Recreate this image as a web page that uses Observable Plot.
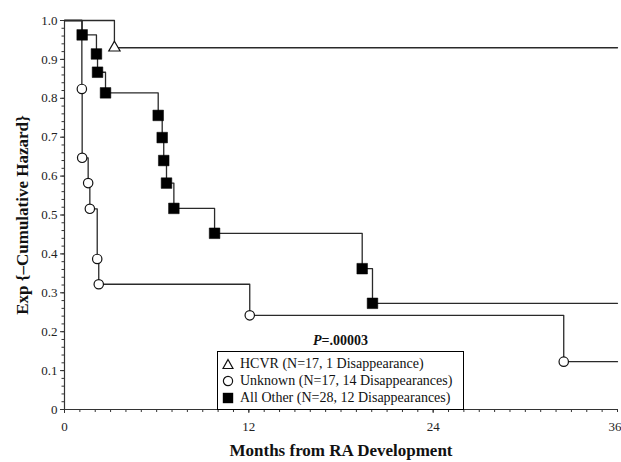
<!DOCTYPE html>
<html>
<head>
<meta charset="utf-8">
<script src="https://cdn.jsdelivr.net/npm/d3@7"></script>
<script src="https://cdn.jsdelivr.net/npm/@observablehq/plot@0.6"></script>
<style>
  html, body { margin: 0; padding: 0; background: #fff; }
  #wrap { position: relative; width: 621px; height: 462px; font-family: "Liberation Serif", "Times New Roman", serif; }
  #legend { position: absolute; left: 217px; top: 351px; width: 245px; height: 57px; border: 1px solid #000; background: #fff; font-size: 14px; color: #111; }
  .row { position: absolute; left: 4px; height: 17px; display: flex; align-items: center; white-space: nowrap; }
  .row svg { margin-right: 6px; }
  #pval { position: absolute; left: 217px; width: 247px; top: 333px; text-align: center; font-size: 14px; font-weight: bold; color: #111; }
</style>
</head>
<body>
<div id="wrap"></div>
<script>
// ---- data ----
const groups = ["HCVR (N=17, 1 Disappearance)", "Unknown (N=17, 14 Disappearances)", "All Other (N=28, 12 Disappearances)"];
const hcvrMonths = [3.25];
const hcvrSurv = [0.93];
const unknownMonths = [1.13, 1.15, 1.54, 1.65, 2.13, 2.23, 12.06, 32.5];
const unknownSurv = [0.824, 0.647, 0.582, 0.516, 0.387, 0.322, 0.242, 0.123];
const otherMonths = [1.15, 2.08, 2.15, 2.67, 6.10, 6.36, 6.46, 6.64, 7.12, 9.77, 19.38, 20.05];
const otherSurv = [0.963, 0.914, 0.867, 0.814, 0.756, 0.699, 0.640, 0.582, 0.517, 0.453, 0.362, 0.273];
const xTicks = [0, 12, 24];
const xLastTick = [36];
const yTicks = [0, 0.1, 0.2, 0.3, 0.4, 0.5, 0.6, 0.7, 0.8, 0.9, 1.0];
const pText = ".00003";
const maxMonth = 36;

function events(months, surv) { return months.map((m, i) => ({m, s: surv[i]})); }
function stepPath(months, surv) {
  const ev = events(months, surv);
  return [{m: 0, s: 1}, ...ev, {m: maxMonth, s: surv[surv.length - 1]}];
}
const hcvrEv = events(hcvrMonths, hcvrSurv);
const unkEv = events(unknownMonths, unknownSurv);
const othEv = events(otherMonths, otherSurv);

const xMinor = d3.range(0, 37, 1);
const yMinor = d3.range(0, 1.0001, 0.02).map(v => +v.toFixed(2));
const lineColor = "#2a2a2a";

const chart = Plot.plot({
  width: 621,
  height: 462,
  marginLeft: 64,
  marginRight: 4,
  marginTop: 20,
  marginBottom: 53,
  style: {fontFamily: "Liberation Serif, Times New Roman, serif", fontSize: "13px", color: "#222", background: "#fff"},
  x: {domain: [0, 36]},
  y: {domain: [0, 1]},
  marks: [
    Plot.axisX({ticks: xMinor, tickSize: 3, tickFormat: () => "", stroke: "#333", label: null}),
    Plot.axisX({ticks: xTicks, tickSize: 4, tickPadding: 8, tickFormat: d => String(d), stroke: "#333", label: null}),
    Plot.axisX({ticks: xLastTick, tickSize: 4, tickPadding: 8, tickFormat: d => String(d), textAnchor: "end", dx: 4, stroke: "#333", label: null}),
    Plot.axisY({ticks: yMinor, tickSize: 2.5, tickFormat: () => "", stroke: "#333", label: null}),
    Plot.axisY({ticks: yTicks, tickSize: 4, tickPadding: 3, tickFormat: d => d === 0 ? "0" : d.toFixed(1), stroke: "#333", label: null}),
    Plot.ruleX([0], {stroke: "#333", strokeWidth: 1.2}),
    Plot.ruleY([0], {stroke: "#333", strokeWidth: 1.2}),
    Plot.line(stepPath(hcvrMonths, hcvrSurv), {x: "m", y: "s", curve: "step-after", stroke: lineColor, strokeWidth: 1.3}),
    Plot.line(stepPath(unknownMonths, unknownSurv), {x: "m", y: "s", curve: "step-after", stroke: lineColor, strokeWidth: 1.3}),
    Plot.line(stepPath(otherMonths, otherSurv), {x: "m", y: "s", curve: "step-after", stroke: lineColor, strokeWidth: 1.3}),
    Plot.dot(hcvrEv, {x: "m", y: "s", symbol: "triangle", r: 4.2, fill: "#fff", stroke: "#111", strokeWidth: 1.2}),
    Plot.dot(unkEv, {x: "m", y: "s", symbol: "circle", r: 4.7, fill: "#fff", stroke: "#111", strokeWidth: 1.2}),
    Plot.dot(othEv, {x: "m", y: "s", symbol: "square", r: 6.0, fill: "#000", stroke: "#000", strokeWidth: 0.5}),
    Plot.text(["Months from RA Development"], {frameAnchor: "bottom", lineAnchor: "middle", dy: 41, fontSize: 17, fontWeight: "bold", fill: "#111"}),
    Plot.text(["Exp {\u2013Cumulative Hazard}"], {frameAnchor: "left", textAnchor: "middle", lineAnchor: "middle", dx: -42, rotate: -90, fontSize: 17, fontWeight: "bold", fill: "#111"})
  ]
});

const wrap = document.getElementById("wrap");
wrap.appendChild(chart);

// p-value
const p = document.createElement("div");
p.id = "pval";
p.innerHTML = "<i>P</i>=" + pText;
wrap.appendChild(p);

// legend
const legend = document.createElement("div");
legend.id = "legend";
const symbols = [
  '<svg width="12" height="12" viewBox="0 0 12 12"><path d="M6 1.5 L11 10.5 L1 10.5 Z" fill="#fff" stroke="#111" stroke-width="1.2"/></svg>',
  '<svg width="12" height="12" viewBox="0 0 12 12"><circle cx="6" cy="6" r="4.6" fill="#fff" stroke="#111" stroke-width="1.2"/></svg>',
  '<svg width="12" height="12" viewBox="0 0 12 12"><rect x="0.8" y="0.8" width="10.4" height="10.4" fill="#000"/></svg>'
];
groups.forEach((g, i) => {
  const row = document.createElement("div");
  row.className = "row";
  row.style.top = (3 + i * 17) + "px";
  row.innerHTML = symbols[i] + "<span>" + g + "</span>";
  legend.appendChild(row);
});
wrap.appendChild(legend);
</script>
</body>
</html>
